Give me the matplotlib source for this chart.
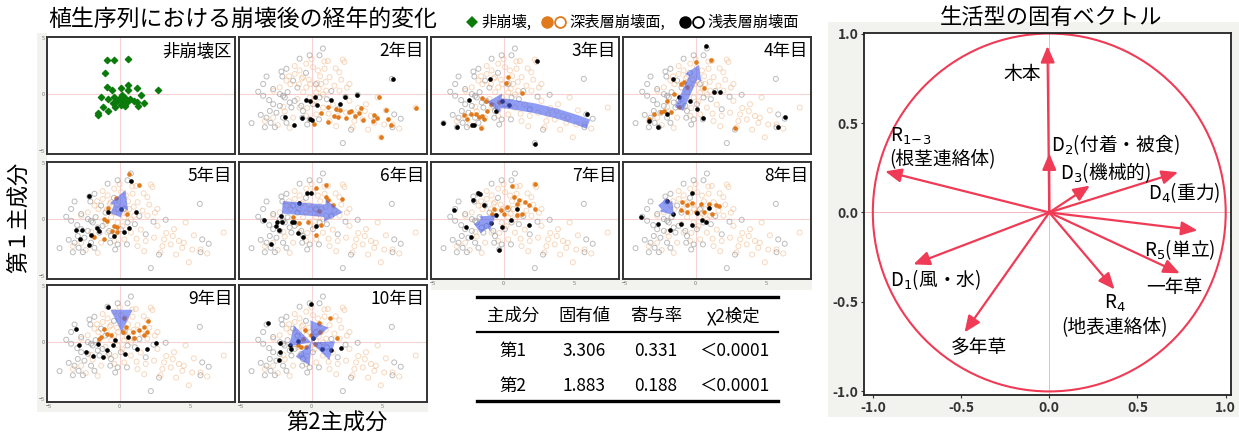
import matplotlib
matplotlib.use("Agg")
import matplotlib.pyplot as plt
from matplotlib.patches import FancyArrowPatch, ArrowStyle, Polygon, Rectangle, Circle
from matplotlib.lines import Line2D

plt.rcParams['font.family'] = ['Noto Sans CJK JP', 'DejaVu Sans']

# ---------------- data ----------------
PANEL_LABELS = ['非崩壊区', '2年目', '3年目', '4年目', '5年目', '6年目', '7年目', '8年目', '9年目', '10年目']

# non-collapse area (green diamonds)
GREEN_X = [-0.87, -0.4, 0.61, -1.03, -0.87, -0.52, 0.07, 0.61, 0.61, 1.2, 2.75, -1.34, -0.82, -0.4, -0.05,
           0.14, 0.35, -0.16, 0.42, 0.77, 1.01, 1.24, 1.55, 1.76, 1.29, -0.45, 0.07, 0.38, -0.33, -1.15,
           -0.8, -1.5, -1.5, 0.54, 0.19]
GREEN_Y = [3.04, 3.04, 3.13, 1.9, 0.65, 0.42, 0.6, 0.86, 0.42, 0.6, 0.42, -0.24, -0.39, -0.24, -0.39,
           -0.09, -0.3, -0.54, -0.54, -0.39, -0.54, -0.68, -0.09, -0.74, -0.98, -0.77, -0.89, -0.98, -1.07, -1.07,
           -1.43, -1.67, -1.82, -0.68, -0.54]

# background cloud of all plots (hollow)
GRAY_X = [-4.25, -3.31, -3.43, -3.19, -2.14, -2.07, -1.78, -3.78, -3.43, -2.72, -2.49, -2.02, -2.6, -0.66,
          -0.14, 0.52, -0.31, 0.56, 0.8, 3.26, 5.68, 5.85, 6.31, 5.73, 2.21, 0.56, -0.73, -1.55, -2.02, -1.31,
          -1.43, 0.09, 1.08, 1.85, -3.19, -2.96, -1.78, -2.25, -0.85, -0.14, -2.72, -2.25, -1.9, -1.2, -0.61,
          2.79, -3.6, -2.9, -1.0, 0.3, -0.4, 1.4, 2.4, -1.7, -3.0]
GRAY_Y = [-2.53, -2.89, 0.92, 1.58, 2.02, 1.58, 2.26, 0.24, -0.12, -0.86, -1.61, -2.05, -2.89, -2.05,
          -2.2, -2.2, -2.65, 3.45, 4.05, -0.03, 1.37, -1.76, -2.14, -2.89, -4.29, -0.27, -1.01, -0.71, -0.12, 1.22,
          -1.16, -0.86, -0.42, -1.31, -2.05, -1.46, -2.5, -1.01, 3.15, 3.45, 0.48, 0.03, -0.27, -0.57, -1.46,
          -3.1, -1.8, -2.5, 0.6, 0.9, 1.9, 0.3, -0.2, 0.2, -0.5]
LORANGE_X = [2.21, 2.32, 1.15, 0.92, 1.27, 1.97, 0.68, 1.62, 2.68, 2.68, 3.15, 3.62, 4.2, 4.55, 4.67, 5.26,
             4.44, 5.14, 4.9, 7.37, 1.85, 1.27, 2.44, 3.03, 1.74, -0.85, -1.31, -2.72, -3.31, -1.55, -0.38,
             0.45, -0.38, -0.85, -0.61, -1.78, -2.25, -2.72, 1.03, 1.97, 0.33, -0.14, 0.8, 0.33, -0.38, 3.85,
             5.73, 3.76, -1.2, -0.9, -0.2, 0.1, 0.6, 1.0, -1.5, -0.6, 0.2, -1.0, 1.5, 0.9, 0.0, -1.9, -2.4,
             2.9, 3.3, 6.2, 4.0, 1.2, -0.3, 2.1, -1.2, 0.5, -0.7, 0.4, -1.6, 1.7, -0.1, 0.8, -2.0, 2.5]
LORANGE_Y = [3.07, 2.86, 2.95, 2.26, 1.52, 1.96, 0.92, 0.77, 0.92, -0.57, -1.76, -2.2, -1.9, -2.05, -0.27,
             -1.4, -2.5, -2.65, -3.78, -1.16, -1.9, -2.35, -1.61, -2.35, -2.8, -1.16, -2.05, -2.05, -2.35, -2.95,
             0.62, 2.11, 2.71, 2.11, 1.52, 1.22, 0.62, 0.33, 0.33, 0.33, 0.18, -0.27, -1.16, -1.76, -1.9, -0.86,
             -2.65, -1.46, 1.8, 0.9, 1.3, 2.4, 1.6, 1.1, 0.9, 0.2, -0.6, -0.4, -0.9, 2.9, 3.1, -1.5, -2.7,
             -2.9, -1.2, -3.0, -3.1, -1.7, -1.2, 1.3, 2.5, 0.5, 1.4, 1.0, 1.6, 2.3, 0.9, 0.0, -1.1, 0.6]

# highlighted plots of each year: deep collapse (orange) and shallow collapse (black)
DEEP = {
    '2年目': ([4.74, 7.42, 1.17, 1.74, 2.02, 2.63, 2.79, 3.5, 3.33, 3.1, 1.6, 1.85, 2.46, 0.68, 1.15, 0.14,
              3.66, 4.32, 4.44, 4.6, 5.26, 5.38, 5.61, 4.9],
             [-0.21, -1.16, -1.07, -1.25, -1.4, -1.52, -1.46, -1.16, -1.61, -1.9, -1.9, -1.99, -2.11, -1.61,
              -2.44, -2.59, -2.29, -2.35, -1.82, -2.05, -1.4, -2.14, -2.71, -3.78]),
    '3年目': ([0.31, 0.14, 1.27, -1.5, -1.27, -0.33, -2.79, -2.56, -1.97, -1.74, -1.5, -1.38, -2.3, -1.62,
              -1.15, -0.92],
             [1.55, 1.04, 0.12, -0.3, -0.54, -0.68, -1.79, -2.17, -1.73, -2.02, -1.88, -2.17, -1.73, -2.98,
              -1.43, -0.83]),
    '4年目': ([0.0, 1.1, -0.82, -0.59, -1.06, 0.59, -1.53, -2.0, -2.23, -2.46, -2.93, -3.29, -1.71, -1.17, 2.82],
             [2.83, 3.04, 1.1, 0.65, 0.95, 0.57, 0.06, -0.54, -1.43, -1.58, -1.73, -2.17, -1.58, -1.13, -2.92]),
    '5年目': ([0.66, 1.36, -0.82, 0.54, -1.1, -0.4, -0.16, -0.52, -0.16, -1.1, -1.81, -0.87, -0.28],
             [3.99, 3.04, 1.04, 0.51, 0.06, -0.54, -0.68, -0.98, -1.07, -1.73, -1.52, -0.15, 1.85]),
    '6年目': ([0.28, 0.99, 1.03, 1.15, 2.14, 1.55, 0.52, -1.31, -0.89, -0.26, 0.28, 0.68],
             [2.77, 3.07, 1.96, 1.67, 1.82, 1.28, 0.77, 0.18, -0.33, -0.27, -1.4, -0.51]),
    '7年目': ([2.25, 0.61, 0.73, 1.08, 0.96, 1.55, 1.78, 2.25, 0.26, -0.21, -0.68, 0.02, 0.96, 1.31, -0.8],
             [3.1, 2.98, 1.99, 1.7, 1.4, 1.55, 1.25, 0.95, 1.1, 0.8, 0.95, 0.51, 0.36, 0.51, 0.51]),
    '8年目': ([-0.28, -0.94, -0.59, 0.35, 0.94, 1.41, 1.64, -0.59, 0.0, 0.59, 1.17, -1.06],
             [1.46, 1.55, 1.25, 1.4, 1.4, 1.25, 1.16, 0.65, 0.65, 0.65, 0.51, 0.8]),
    '9年目': ([2.04, 1.74, 1.97, 1.38, 0.92, 1.03, 0.33, 0.45, 0.21, -0.61, -1.08, -1.31, -1.43, -0.89, 1.74],
             [1.88, 1.37, 0.92, 1.07, 0.92, 0.39, 2.11, 1.37, 0.92, 0.62, 1.22, 0.48, 0.33, 0.77, 0.62]),
    '10年目': ([1.31, 1.81, -0.49, -0.61, -0.96, -0.73, -0.38, 0.21, 0.56, -0.02, 0.52],
              [2.11, 0.42, 1.07, 0.33, -0.27, -0.42, -0.42, -0.12, 0.92, 0.62, 1.67]),
}
SHALLOW = {
    '2年目': ([5.73, 3.22, 2.39, 1.38, 2.04, 0.21, -0.14, -0.38, 0.38, -1.9, -0.7, -0.09, 0.05, -1.24],
             [1.37, -0.06, -0.27, -0.51, -0.86, -0.27, -0.57, -0.51, -0.95, -1.96, -2.05, -2.2, -2.29, -2.71]),
    '3年目': ([2.35, -0.96, -2.44, -4.3, -3.31, -2.25, -2.09, -0.09, 0.38, -0.56, 5.89, 2.21],
             [2.95, 1.4, -0.45, -2.53, -2.89, -2.71, -2.71, -0.62, -0.92, -1.43, -1.73, -4.35]),
    '4年目': ([0.75, -1.57, 1.29, 1.76, -1.17, -0.4, 0.12, 0.54, -2.0, -3.33, -2.63, 6.34, 5.8],
             [4.29, 1.4, 0.21, 0.21, -0.24, -0.6, -1.28, -2.11, -1.73, -2.32, -2.86, -2.02, -2.83]),
    '5年目': ([0.82, -2.16, -0.8, 0.07, 1.13, -3.1, -2.63, -2.82, -2.04, -1.57, -1.46, -0.4, 0.3, 0.66, -2.16],
             [3.39, 2.05, 0.65, 0.95, 0.62, -0.92, -0.92, -1.73, -1.34, -0.77, -0.98, -1.43, -1.07, -0.77, -2.26]),
    '6年目': ([-0.33, -0.02, -0.89, -2.18, -3.38, -2.44, -2.07, -2.49, -2.3, -1.38, -1.24, -0.94, -0.61, 0.28, -2.84],
             [2.32, 2.32, 1.46, 0.27, -0.03, -0.21, -0.27, -0.62, -0.92, -0.27, -0.27, -1.22, -1.52, -0.62, -2.14]),
    '7年目': ([-1.81, -1.67, -2.16, -1.38, -3.5, 0.96, 0.54, -0.92, -0.56, -2.68, -0.09, 1.78, -2.28, -0.33],
             [2.35, 2.2, 1.7, 1.25, 0.8, 0.95, -0.03, -0.33, 0.36, -0.68, -0.68, -0.45, -1.52, -2.68]),
    '8年目': ([-0.23, -2.04, -1.6, -3.87, -2.63, -1.81, -1.06, -0.23, 0.47, 0.77, 0.94, 0.12],
             [2.29, 1.61, 0.45, 0.21, -0.39, -0.92, -0.39, -0.45, -0.09, -0.24, 1.04, 0.57]),
    '9年目': ([-0.85, -3.08, -2.84, -2.37, -1.9, -1.55, -1.2, -0.89, -0.45, -0.31, 0.56, 0.4, 1.22, 1.97, 2.56],
             [3.1, 1.16, -0.21, -0.8, -1.22, -0.12, -1.25, -0.63, -0.27, 0.18, 0.48, -1.01, -0.57, -0.57, -0.03]),
    '10年目': ([-0.02, -3.08, -2.25, -1.43, -1.55, -2.25, -2.32, -0.96, 0.09, 0.73, 1.34, 2.09],
              [3.39, 1.67, -0.03, -0.57, -0.27, -0.86, -1.52, 0.12, 0.39, -0.57, -0.65, -0.51]),
}

# direction of change (tail x, tail y, head x, head y)
ARROWS = {
    '3年目': (6.0, -2.62, -1.15, -0.68),
    '4年目': (-1.17, -1.28, 0.23, 2.59),
    '5年目': (-0.28, 0.36, 0.42, 2.59),
    '6年目': (-2.07, 1.07, 2.21, 0.63),
    '7年目': (-1.85, -0.83, -0.56, 0.36),
    '8年目': (-2.35, 1.55, -1.53, 0.36),
    '9年目': (0.14, 2.86, 0.14, 0.92),
}
# 10th year: four wedges from the centre
WEDGES_10 = [
    [(-0.02, 0.0), (-0.09, 1.95), (1.2, 1.3)],
    [(-0.02, 0.0), (-1.25, 1.5), (-1.6, -0.35)],
    [(-0.02, 0.0), (-1.12, -1.25), (-0.14, -2.05)],
    [(-0.02, 0.0), (1.66, 0.09), (1.25, -1.55)],
]

TABLE_HEADER = ['主成分', '固有値', '寄与率', 'χ2検定']
TABLE_ROWS = [['第1', '3.306', '0.331', '＜0.0001'],
              ['第2', '1.883', '0.188', '＜0.0001']]

# eigenvectors of life forms
LF_X = [-0.01, 0.0, -0.93, 0.23, 0.73, 0.84, 0.74, 0.37, -0.77, -0.48]
LF_Y = [0.93, 0.33, 0.23, 0.15, 0.225, -0.10, -0.34, -0.43, -0.29, -0.67]
LF_LABELS = ['木本', 'D$_2$(付着・被食)', 'R$_{1\\!-\\!3}$\n(根茎連絡体)', 'D$_3$(機械的)', 'D$_4$(重力)',
             'R$_5$(単立)', '一年草', 'R$_4$\n(地表連絡体)', 'D$_1$(風・水)', '多年草']

# ---------------- figure ----------------
W, H = 1239, 437
fig = plt.figure(figsize=(W / 100, H / 100), dpi=100)


def fbox(x, y, w, h):
    return [x / W, 1 - (y + h) / H, w / W, h / H]


BG = '#f2f2ee'
for (x, y, w, h) in [(37, 33, 10, 379), (37, 401, 391, 11), (431, 278, 381, 12), (828, 22, 411, 395)]:
    fig.patches.append(Rectangle((x / W, 1 - (y + h) / H), w / W, h / H, transform=fig.transFigure,
                                 facecolor=BG, edgecolor='none', zorder=-5))

col_x = [47, 239, 431, 623]
row_y = [37, 162, 285]
PW, PH = 188, 117
ARROW_C = '#4a62ee'
ORANGE = '#e07a1c'

for i, lab in enumerate(PANEL_LABELS):
    r, c = divmod(i, 4)
    ax = fig.add_axes(fbox(col_x[c], row_y[r], PW, PH))
    ax.set_xlim(-5.14, 8.17)
    ax.set_ylim(-5.25, 5.06)
    ax.axhline(0, color='#f6d2d2', lw=0.8, zorder=0)
    ax.axvline(0, color='#f6d2d2', lw=0.8, zorder=0)
    for s in ax.spines.values():
        s.set_linewidth(1.4)
        s.set_color('#333333')
    ax.set_xticks([-5, 0, 5])
    ax.set_yticks([-5, 0, 5])
    ax.tick_params(length=0, labelsize=4, colors='#777777', pad=1.5)
    if c != 0:
        ax.set_yticklabels([])
    if not ((r == 2) or (r == 1 and c >= 2)):
        ax.set_xticklabels([])
    ax.text(0.985, 0.955, lab, transform=ax.transAxes, ha='right', va='top', fontsize=12.5, zorder=10)
    if i == 0:
        ax.scatter(GREEN_X, GREEN_Y, marker='D', s=10, color='#0a7a0a', zorder=3)
        continue
    ax.scatter(LORANGE_X, LORANGE_Y, s=13, facecolors='none', edgecolors='#f2b887', linewidths=0.7,
               alpha=0.55, zorder=2)
    ax.scatter(GRAY_X, GRAY_Y, s=13, facecolors='none', edgecolors='#8f8f8f', linewidths=0.7,
               alpha=0.6, zorder=2)
    dx, dy = DEEP[lab]
    ax.scatter(dx, dy, s=11, color=ORANGE, zorder=3, linewidths=0)
    sx, sy = SHALLOW[lab]
    ax.scatter(sx, sy, s=11, color='black', zorder=3, linewidths=0)
    if lab in ARROWS:
        x0, y0, x1, y1 = ARROWS[lab]
        sty = {'3年目': (7, 14, 10), '4年目': (6.5, 13, 10), '5年目': (8, 14, 13),
               '6年目': (9, 16, 13), '7年目': (8, 13, 10), '8年目': (8, 12, 9), '9年目': (10, 16, 16)}[lab]
        rad = 0.08 if lab == '3年目' else 0.0
        ap = FancyArrowPatch((x0, y0), (x1, y1), arrowstyle=ArrowStyle.Simple(
            head_length=sty[2], head_width=sty[1], tail_width=sty[0]), mutation_scale=1,
            shrinkA=0, shrinkB=0, connectionstyle=f'arc3,rad={rad}',
            color=ARROW_C, alpha=0.62, lw=0, zorder=5)
        ax.add_patch(ap)
    if lab == '10年目':
        for wdg in WEDGES_10:
            ax.add_patch(Polygon(wdg, closed=True, color=ARROW_C, alpha=0.62, lw=0, zorder=5))

# titles / labels
fig.text(48 / W, 1 - 20 / H, '植生序列における崩壊後の経年的変化', fontsize=16.5, ha='left', va='center')
fig.text(18 / W, 1 - 217 / H, '第１主成分', fontsize=16, rotation=90, ha='center', va='center')
fig.text(337 / W, 1 - 422 / H, '第2主成分', fontsize=16, ha='center', va='center')

# legend pieces (markers drawn as Line2D, text as text)
ly = 1 - 22 / H


def fig_marker(xp, marker, mfc, mec, ms, mew=0):
    fig.add_artist(Line2D([xp / W], [ly], transform=fig.transFigure, marker=marker, ms=ms,
                          mfc=mfc, mec=mec, mew=mew, ls='none'))


fig_marker(472, 'D', '#0a7a0a', '#0a7a0a', 6.5)
fig.text(481 / W, ly, '非崩壊,', fontsize=11, ha='left', va='center')
fig_marker(547, 'o', ORANGE, ORANGE, 9)
fig_marker(560, 'o', 'white', ORANGE, 7.8, 1.3)
fig.text(569 / W, ly, '深表層崩壊面,', fontsize=11, ha='left', va='center')
fig_marker(685, 'o', 'black', 'black', 9)
fig_marker(698, 'o', 'white', 'black', 7.8, 1.3)
fig.text(707 / W, ly, '浅表層崩壊面', fontsize=11, ha='left', va='center')

# table
for yy, lw in [(297, 2.4), (332, 1.6), (401, 2.4)]:
    fig.add_artist(Line2D([477 / W, 778 / W], [1 - yy / H, 1 - yy / H], transform=fig.transFigure,
                          color='black', lw=lw))
tcols = [513, 584, 656, 734]
for j, t in enumerate(TABLE_HEADER):
    fig.text(tcols[j] / W, 1 - 316 / H, t, fontsize=12.5, ha='center', va='center')
for k, row in enumerate(TABLE_ROWS):
    for j, t in enumerate(row):
        fig.text(tcols[j] / W, 1 - (351 + 35 * k) / H, t, fontsize=12.5, ha='center', va='center')

# right chart
axr = fig.add_axes([864 / W, 1 - 395 / H, (1231 - 864) / W, (395 - 33) / H])
axr.set_xlim(-1.05, 1.03)
axr.set_ylim(-1.02, 1.003)
axr.axhline(0, color='#f7b5c0', lw=0.7, zorder=0)
axr.axvline(0, color='#f7b5c0', lw=0.7, zorder=0)
RED = '#ef3b55'
axr.add_patch(Circle((0, 0), 1.0, fill=False, edgecolor=RED, lw=1.5, zorder=2))
for x, y in zip(LF_X, LF_Y):
    axr.annotate('', xy=(x, y), xytext=(0, 0),
                 arrowprops=dict(arrowstyle='-|>,head_length=0.7,head_width=0.3', color=RED, lw=1.6,
                                 shrinkA=0, shrinkB=0, mutation_scale=14), zorder=3)
label_pos = [(-0.045, 0.77, 'right'), (0.01, 0.38, 'left'), (-0.905, 0.36, 'left'), (0.06, 0.225, 'left'),
             (0.56, 0.11, 'left'), (0.535, -0.21, 'left'), (0.55, -0.42, 'left'), (0.37, -0.575, 'center'),
             (-0.9, -0.375, 'left'), (-0.40, -0.755, 'center')]
for (tx, ty, ha), lab in zip(label_pos, LF_LABELS):
    axr.text(tx, ty, lab, fontsize=13.5, ha=ha, va='center', linespacing=1.15, zorder=4)
axr.set_xticks([-1.0, -0.5, 0.0, 0.5, 1.0])
axr.set_yticks([-1.0, -0.5, 0.0, 0.5, 1.0])
axr.set_xticklabels(['-1.0', '-0.5', '0.0', '0.5', '1.0'])
axr.set_yticklabels(['-1.0', '-0.5', '0.0', '0.5', '1.0'])
axr.tick_params(length=2, labelsize=10, colors='#333333', pad=2)
for lbl in axr.get_xticklabels() + axr.get_yticklabels():
    lbl.set_fontweight('bold')
for s in axr.spines.values():
    s.set_linewidth(1.3)
    s.set_color('#222222')
fig.text(1051 / W, 1 - 17 / H, '生活型の固有ベクトル', fontsize=16, ha='center', va='center')

fig.savefig('out.png', dpi=100)
